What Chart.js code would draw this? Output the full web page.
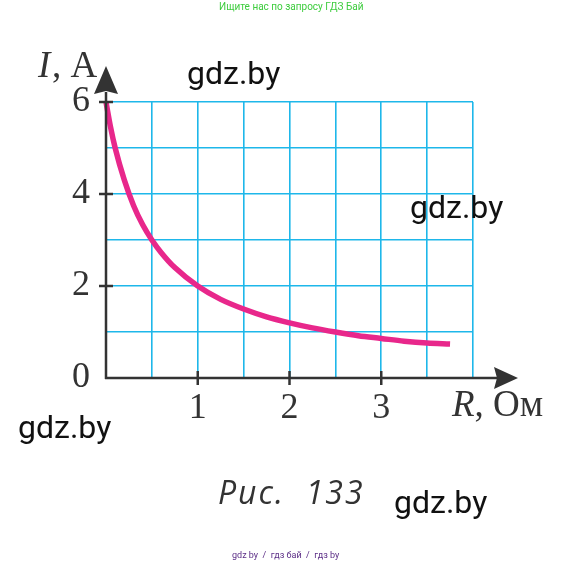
<!DOCTYPE html>
<html>
<head>
<meta charset="utf-8">
<script src="https://cdn.jsdelivr.net/npm/chart.js@4/dist/chart.umd.min.js"></script>
<style>
  html,body{margin:0;padding:0;background:#fff;}
  #wrap{position:relative;width:579px;height:565px;overflow:hidden;}
  canvas{position:absolute;left:0;top:0;}
  .t{position:absolute;white-space:nowrap;}
  .wm{font-family:Roboto,"Liberation Sans",sans-serif;font-size:32px;color:#111;}
</style>
</head>
<body>
<div id="wrap">
  <canvas id="c" width="579" height="565"></canvas>
  <div class="t" style="left:219px;top:1px;font-family:Roboto,sans-serif;font-size:10px;color:#3dcc3d;">Ищите нас по запросу ГДЗ Бай</div>
  <div class="t wm" style="left:187px;top:54px;">gdz.by</div>
  <div class="t wm" style="left:410px;top:188px;">gdz.by</div>
  <div class="t wm" style="left:18px;top:408px;">gdz.by</div>
  <div class="t wm" style="left:394px;top:483px;">gdz.by</div>
  <div class="t" style="left:218px;top:470px;font-family:'Open Sans',sans-serif;font-style:italic;font-size:32px;color:#333;letter-spacing:2px;">Рис.&nbsp; 133</div>
  <div class="t" style="left:232px;top:550px;font-family:Roboto,sans-serif;font-size:9px;color:#5b2d86;">gdz by&nbsp; / &nbsp;гдз бай&nbsp; / &nbsp;гдз by</div>
</div>
<script>
// Data: R (Ohm) and I (A)
const R = [0, 0.05, 0.1, 0.2, 0.3, 0.4, 0.5, 0.6, 0.75, 1.0, 1.25, 1.5, 1.75, 2.0, 2.25, 2.5, 2.75, 3.0, 3.25, 3.5, 3.75];
const I = [6.0, 5.45, 5.0, 4.3, 3.75, 3.33, 3.0, 2.73, 2.4, 2.0, 1.71, 1.5, 1.33, 1.2, 1.09, 1.0, 0.92, 0.86, 0.8, 0.76, 0.74];
const xTickLabels = [1, 2, 3];
const yTickLabels = [0, 2, 4, 6];
const xTitle = 'R, Ом';
const yTitle = 'I, A';

const AXIS = '#333333';
const GRID = '#1eb7ea';
const CURVE = '#e8278b';
const SERIF = '"Liberation Serif","DejaVu Serif",serif';

const axesPlugin = {
  id: 'axesArrows',
  afterDraw(chart) {
    const ctx = chart.ctx;
    const xs = chart.scales.x, ys = chart.scales.y;
    const x0 = xs.getPixelForValue(0), y0 = ys.getPixelForValue(0);
    ctx.save();
    ctx.strokeStyle = AXIS; ctx.fillStyle = AXIS; ctx.lineWidth = 2.5;
    // x axis
    ctx.beginPath(); ctx.moveTo(x0 - 1, y0); ctx.lineTo(497, y0); ctx.stroke();
    ctx.beginPath(); ctx.moveTo(518, y0); ctx.lineTo(494, y0 - 11); ctx.lineTo(497, y0); ctx.lineTo(494, y0 + 11); ctx.closePath(); ctx.fill();
    // y axis
    ctx.beginPath(); ctx.moveTo(x0, y0 + 1); ctx.lineTo(x0, 92); ctx.stroke();
    ctx.beginPath(); ctx.moveTo(x0, 66); ctx.lineTo(x0 - 12, 94); ctx.lineTo(x0, 91); ctx.lineTo(x0 + 12, 94); ctx.closePath(); ctx.fill();
    // tick marks
    ctx.lineWidth = 2.5;
    xTickLabels.forEach(v => { const p = xs.getPixelForValue(v); ctx.beginPath(); ctx.moveTo(p, y0 - 7); ctx.lineTo(p, y0 + 7); ctx.stroke(); });
    yTickLabels.filter(v => v > 0).forEach(v => { const p = ys.getPixelForValue(v); ctx.beginPath(); ctx.moveTo(x0 - 7, p); ctx.lineTo(x0 + 7, p); ctx.stroke(); });
    // titles
    ctx.textBaseline = 'alphabetic';
    ctx.font = 'italic 37px ' + SERIF;
    ctx.fillText('I', 38, 77);
    ctx.font = '37px ' + SERIF;
    ctx.fillText(yTitle.slice(1), 52, 77);
    ctx.font = 'italic 37px ' + SERIF;
    ctx.fillText('R', 452, 416);
    const rw = ctx.measureText('R').width;
    ctx.font = '37px ' + SERIF;
    ctx.fillText(xTitle.slice(1), 452 + rw, 416);
    ctx.restore();
  }
};

new Chart(document.getElementById('c'), {
  type: 'scatter',
  data: {
    datasets: [{
      data: R.map((r, i) => ({ x: r, y: I[i] })),
      showLine: true,
      borderColor: CURVE,
      borderWidth: 5.5,
      pointRadius: 0,
      cubicInterpolationMode: 'monotone',
      clip: false
    }]
  },
  options: {
    responsive: false,
    devicePixelRatio: 1,
    animation: false,
    events: [],
    layout: { padding: { top: 102, right: 106, left: 0, bottom: 0 } },
    plugins: { legend: { display: false }, tooltip: { enabled: false } },
    scales: {
      x: {
        type: 'linear', min: 0, max: 4,
        grid: { color: GRID, lineWidth: 1.6, drawTicks: false },
        border: { display: false },
        ticks: {
          stepSize: 0.5, autoSkip: false, maxRotation: 0, padding: 9,
          color: AXIS, font: { family: SERIF, size: 36 },
          callback: v => xTickLabels.includes(v) ? String(v) : ''
        },
        afterFit: s => { s.height = 187; }
      },
      y: {
        type: 'linear', min: 0, max: 6,
        grid: { color: GRID, lineWidth: 1.6, drawTicks: false },
        border: { display: false },
        ticks: {
          stepSize: 1, autoSkip: false, padding: 16,
          color: AXIS, font: { family: SERIF, size: 36 },
          callback: v => yTickLabels.includes(v) ? String(v) : ''
        },
        afterFit: s => { s.width = 106; }
      }
    }
  },
  plugins: [axesPlugin]
});
</script>
</body>
</html>
